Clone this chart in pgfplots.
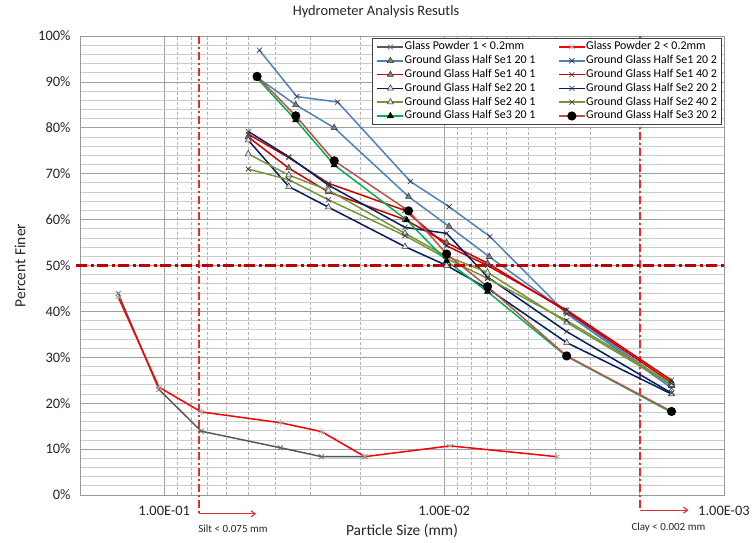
\documentclass[border=0pt]{standalone}
\usepackage{pgfplots}
\pgfplotsset{compat=1.18}
\usepackage{fontspec}
\setmainfont{Carlito}
\usetikzlibrary{arrows.meta}

\definecolor{gpone}{RGB}{89,89,89}
\definecolor{gptwo}{RGB}{255,0,0}
\definecolor{seonetw}{RGB}{79,129,189}
\definecolor{seonefo}{RGB}{204,0,0}
\definecolor{setwotw}{RGB}{0,32,96}
\definecolor{setwofo}{RGB}{119,147,60}
\definecolor{sethreeone}{RGB}{0,176,80}
\definecolor{sethreetwo}{RGB}{192,80,77}
\definecolor{annot}{RGB}{192,0,0}
\definecolor{annotl}{RGB}{225,45,45}

\begin{document}
\begin{tikzpicture}[x=1bp,y=1bp]
\useasboundingbox (-80,-48) rectangle (672,495);
\begin{axis}[
  at={(0,0)}, anchor=south west,
  scale only axis, width=644bp, height=459bp,
  xmode=log, x dir=reverse,
  xmin=0.001, xmax=0.2, ymin=0, ymax=100,
  clip=false,
  xtick={0.1,0.01,0.001},
  xticklabels={1.00E-01,1.00E-02,1.00E-03},
  minor xtick={0.002,0.003,0.004,0.005,0.006,0.007,0.008,0.009,0.02,0.03,0.04,0.05,0.06,0.07,0.08,0.09},
  ytick={0,10,20,30,40,50,60,70,80,90,100},
  yticklabels={0\%,10\%,20\%,30\%,40\%,50\%,60\%,70\%,80\%,90\%,100\%},
  minor ytick={2,4,6,8,12,14,16,18,22,24,26,28,32,34,36,38,42,44,46,48,52,54,56,58,62,64,66,68,72,74,76,78,82,84,86,88,92,94,96,98},
  major tick length=0pt, minor tick length=0pt,
  grid=both,
  major grid style={black!38, line width=0.7bp},
  minor x grid style={black!30, line width=0.6bp, dash pattern=on 3bp off 2bp},
  minor y grid style={black!20, line width=0.8bp},
  axis line style={black!40, line width=0.8bp},
  tick label style={font=\fontsize{14.5}{16}\selectfont, text=black!85},
  xticklabel style={yshift=-8bp},
  yticklabel style={xshift=-6bp},
  legend columns=2,
  legend cell align=left,
  legend style={at={(1,1)}, anchor=north east, xshift=-2bp, yshift=-2bp,
    draw=black!75, line width=0.8bp, fill=white,
    font=\fontsize{12}{13}\selectfont, inner xsep=4bp, inner ysep=2bp,
    nodes={inner sep=0.6bp, text height=9bp, text depth=3bp},
    row sep=0.6bp,
    /tikz/every even column/.append style={column sep=22bp}},
  legend image code/.code={
    \draw[mark repeat=2,mark phase=2,#1] plot coordinates {(0bp,0bp) (13bp,0bp) (26bp,0bp)};
  },
]
% reference lines (behind data)
\draw[color=annotl, line width=1.6bp, dash pattern=on 8bp off 3bp on 2bp off 3bp] (0.075,100) -- (0.075,-4.1);
\draw[color=annotl, line width=1.1bp, -{Straight Barb[length=4bp,width=6bp]}] (0.075,-4.1) -- (0.047,-4.1);
\draw[color=annotl, line width=1.6bp, dash pattern=on 8bp off 3bp on 2bp off 3bp] (0.002,100) -- (0.002,-3.3);
\draw[color=annotl, line width=1.1bp, -{Straight Barb[length=4bp,width=6bp]}] (0.002,-3.3) -- (0.00134,-3.3);
\node[font=\fontsize{11}{12}\selectfont, text=black!85] at (0.0568,-7.4) {Silt < 0.075 mm};
\node[font=\fontsize{11}{12}\selectfont, text=black!85] at (0.00158,-7.0) {Clay < 0.002 mm};

\addplot[gpone, line width=1.5bp, mark=x, mark size=3.5bp, mark options={solid, draw=black!60, line width=0.7bp}]
  coordinates {(0.146,43.9) (0.1045,23.0) (0.0738,13.9) (0.0385,10.3) (0.0274,8.35) (0.0192,8.35)};
\addlegendentry{Glass Powder 1 < 0.2mm}
\addplot[gptwo, line width=1.5bp, mark=asterisk, mark size=3.5bp, mark options={solid, draw=black!35, line width=0.7bp}]
  coordinates {(0.146,43.1) (0.1045,23.5) (0.0738,18.1) (0.0385,15.75) (0.0274,13.8) (0.0192,8.35) (0.00952,10.7) (0.00396,8.35)};
\addlegendentry{Glass Powder 2 < 0.2mm}
\addplot[seonetw, line width=1.5bp, mark=triangle*, mark size=3.6bp, mark options={solid, fill=black!50, draw=black!80, line width=0.5bp}]
  coordinates {(0.0466,91.0) (0.0339,85.0) (0.0247,80.0) (0.0134,65.0) (0.0096,58.5) (0.0069,51.9) (0.00365,39.8) (0.00154,23.8)};
\addlegendentry{Ground Glass Half Se1 20 1}
\addplot[seonetw, line width=1.5bp, mark=x, mark size=3.6bp, mark options={solid, draw=black!80, line width=0.6bp}]
  coordinates {(0.0457,96.9) (0.0336,86.8) (0.0240,85.6) (0.0132,68.3) (0.0096,62.8) (0.00686,56.3) (0.00365,39.5) (0.00154,23.3)};
\addlegendentry{Ground Glass Half Se1 20 2}
\addplot[seonefo, line width=1.5bp, mark=triangle*, mark size=3.6bp, mark options={solid, fill=black!50, draw=black!80, line width=0.5bp}]
  coordinates {(0.0501,78.0) (0.0359,71.2) (0.0259,66.0) (0.0138,60.0) (0.0098,55.0) (0.0070,50.5) (0.00365,40.0) (0.00154,24.5)};
\addlegendentry{Ground Glass Half Se1 40 1}
\addplot[seonefo, line width=1.5bp, mark=x, mark size=3.6bp, mark options={solid, draw=black!80, line width=0.6bp}]
  coordinates {(0.0501,78.6) (0.0359,73.5) (0.0259,67.9) (0.0138,62.0) (0.0098,54.3) (0.0070,50.0) (0.00365,40.3) (0.00154,25.0)};
\addlegendentry{Ground Glass Half Se1 40 2}
\addplot[setwotw, line width=1.5bp, mark=triangle*, mark size=3.6bp, mark options={solid, fill=black!12, draw=black!80, line width=0.5bp}]
  coordinates {(0.0501,77.3) (0.0359,67.2) (0.0259,62.7) (0.0138,54.1) (0.0098,50.0) (0.0070,45.0) (0.00365,33.2) (0.00154,22.0)};
\addlegendentry{Ground Glass Half Se2 20 1}
\addplot[setwotw, line width=1.5bp, mark=x, mark size=3.6bp, mark options={solid, draw=black!80, line width=0.6bp}]
  coordinates {(0.0501,79.2) (0.0359,73.7) (0.0259,67.5) (0.0138,58.3) (0.0098,57.0) (0.0070,47.5) (0.00365,35.6) (0.00154,22.2)};
\addlegendentry{Ground Glass Half Se2 20 2}
\addplot[setwofo, line width=1.5bp, mark=triangle*, mark size=3.6bp, mark options={solid, fill=black!12, draw=black!80, line width=0.5bp}]
  coordinates {(0.0501,74.3) (0.0359,69.7) (0.0259,66.4) (0.0138,57.0) (0.0098,52.0) (0.0070,48.5) (0.00365,37.6) (0.00154,24.0)};
\addlegendentry{Ground Glass Half Se2 40 1}
\addplot[setwofo, line width=1.5bp, mark=x, mark size=3.6bp, mark options={solid, draw=black!80, line width=0.6bp}]
  coordinates {(0.0501,71.0) (0.0359,68.7) (0.0259,64.3) (0.0138,56.5) (0.0098,51.5) (0.0070,47.2) (0.00365,38.0) (0.00154,24.3)};
\addlegendentry{Ground Glass Half Se2 40 2}
\addplot[sethreeone, line width=1.5bp, mark=triangle*, mark size=3.6bp, mark options={solid, fill=black, draw=black, line width=0.5bp}]
  coordinates {(0.0466,90.8) (0.0339,81.7) (0.0247,71.9) (0.0136,59.9) (0.0098,51.0) (0.0070,44.3) (0.00365,30.2) (0.00154,18.0)};
\addlegendentry{Ground Glass Half Se3 20 1}
\addplot[sethreetwo, line width=1.5bp, mark=*, mark size=3.8bp, mark options={solid, fill=black, draw=black}]
  coordinates {(0.0466,91.2) (0.0339,82.6) (0.0247,72.8) (0.0134,61.9) (0.0098,52.5) (0.0070,45.4) (0.00365,30.3) (0.00154,18.2)};
\addlegendentry{Ground Glass Half Se3 20 2}
\draw[draw=annot, line width=2.4bp, dash pattern=on 11bp off 3.5bp on 3bp off 3.5bp] (0.206,50) -- (0.001,50);
\end{axis}
\node[font=\fontsize{14.5}{16}\selectfont, text=black!85] at (296,483) {Hydrometer Analysis Resutls};
\node[font=\fontsize{15.5}{17}\selectfont, text=black!85] at (322,-36) {Particle Size (mm)};
\node[font=\fontsize{15.5}{17}\selectfont, text=black!85, rotate=90] at (-60,229.5) {Percent Finer};
\end{tikzpicture}
\end{document}
